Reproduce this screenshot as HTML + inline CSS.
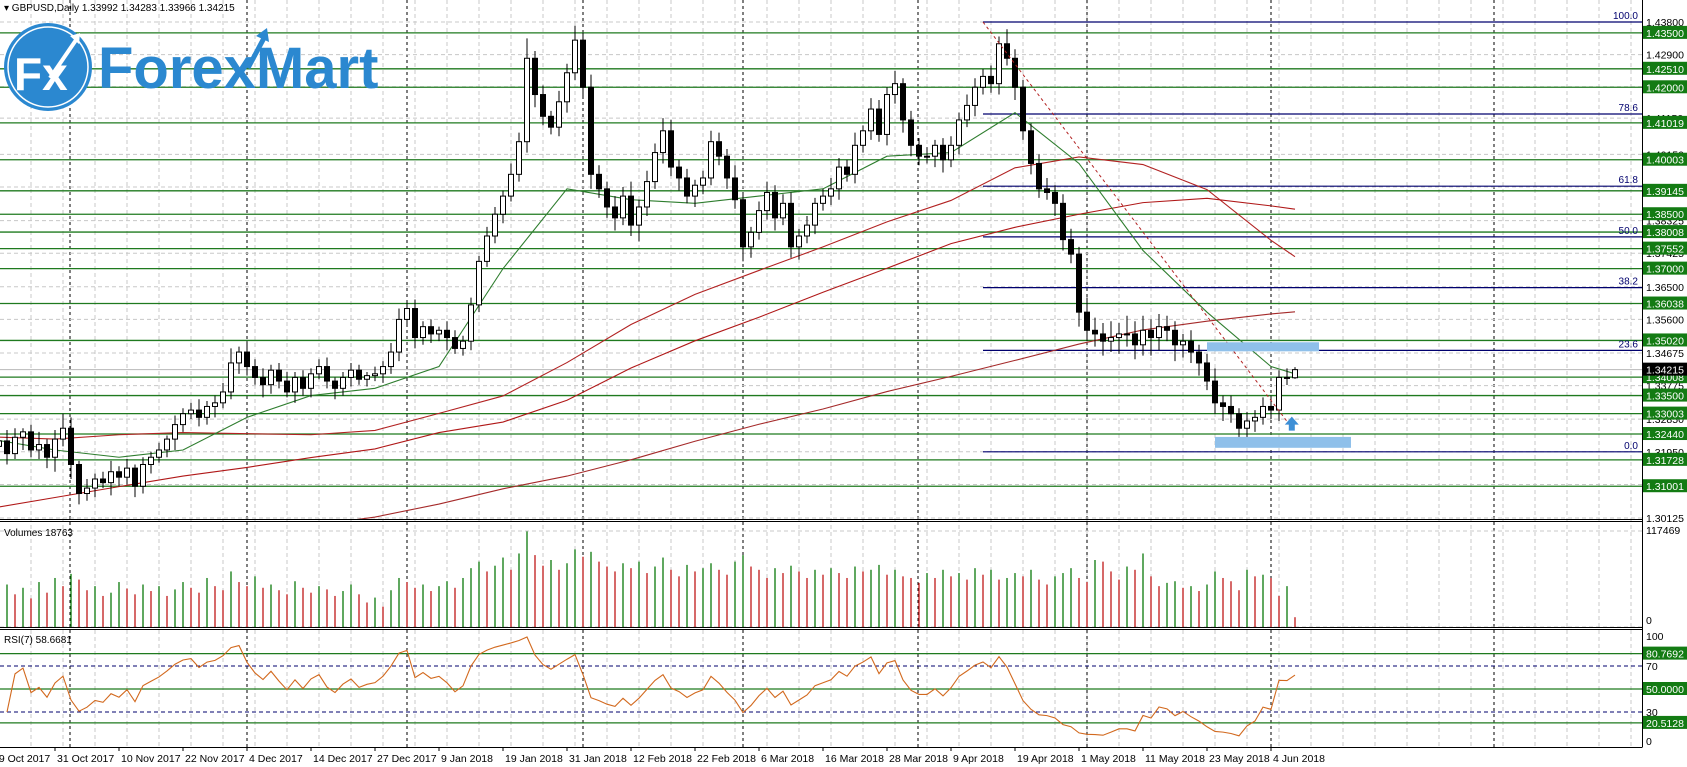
<!DOCTYPE html>
<html><head><meta charset="utf-8"><style>
html,body{margin:0;padding:0;background:#fff;}
svg{display:block;font-family:"Liberation Sans",sans-serif;}
</style></head><body>
<svg id="chart" width="1687" height="767" viewBox="0 0 1687 767" xmlns="http://www.w3.org/2000/svg">
<defs><clipPath id="mainClip"><rect x="0" y="0" width="1642" height="519"/></clipPath>
<clipPath id="volClip"><rect x="0" y="522" width="1642" height="105"/></clipPath>
<clipPath id="rsiClip"><rect x="0" y="630" width="1642" height="117"/></clipPath></defs>
<g id="grid"></g>
<g id="levels"></g>
<g id="fib"></g>
<g id="mas" clip-path="url(#mainClip)"></g>
<g id="candles" clip-path="url(#mainClip)"></g>
<g id="annot"></g>
<g id="vol" clip-path="url(#volClip)"></g>
<g id="rsi"></g>
<g id="axis"></g>
<g id="dates"></g>
<g id="logo">
  <circle cx="48" cy="67" r="44" fill="#2b88d0"/>
  <circle cx="48" cy="67" r="40" fill="none" stroke="#fff" stroke-width="1.5"/>
  <text x="14" y="90" font-size="46" font-weight="bold" fill="#fff">Fx</text>
  <path d="M50 78 L76 40" stroke="#fff" stroke-width="4"/>
  <path d="M70 36 L80 33 L79 44 Z" fill="#fff"/>
  <text x="98" y="88" font-size="58" font-weight="bold" fill="#2b88d0">ForexMart</text>
  <path d="M248 68 L264 38" stroke="#2b88d0" stroke-width="5"/>
  <path d="M256 36 L267 28 L269 42 Z" fill="#2b88d0"/>
</g>
<text x="4" y="11" font-size="10" fill="#000">▾ GBPUSD,Daily  1.33992 1.34283 1.33966 1.34215</text>
<text x="4" y="536" font-size="10" fill="#000">Volumes 18763</text>
<text x="4" y="643" font-size="10" fill="#000">RSI(7) 58.6681</text>
</svg>
<script>
const closes=[1.3210,1.3225,1.3190,1.3235,1.3250,1.3200,1.3215,1.3180,1.3230,1.3260,
1.3160,1.3080,1.3095,1.3120,1.3110,1.3140,1.3125,1.3150,1.3100,1.3160,
1.3180,1.3200,1.3230,1.3270,1.3300,1.3310,1.3290,1.3320,1.3330,1.3360,
1.3440,1.3470,1.3430,1.3400,1.3380,1.3420,1.3390,1.3360,1.3400,1.3370,
1.3410,1.3430,1.3390,1.3370,1.3400,1.3420,1.3395,1.3405,1.3410,1.3430,
1.3470,1.3560,1.3590,1.3510,1.3540,1.3520,1.3530,1.3510,1.3480,1.3500,
1.3600,1.3720,1.3790,1.3850,1.3900,1.3960,1.4050,1.4280,1.4180,1.4120,
1.4090,1.4160,1.4240,1.4330,1.4200,1.3960,1.3920,1.3870,1.3840,1.3900,
1.3820,1.3870,1.3940,1.4020,1.4080,1.3980,1.3950,1.3900,1.3930,1.3950,
1.4050,1.4010,1.3950,1.3890,1.3760,1.3800,1.3860,1.3910,1.3840,1.3880,
1.3760,1.3790,1.3820,1.3880,1.3900,1.3920,1.3980,1.3960,1.4040,1.4080,
1.4140,1.4070,1.4180,1.4210,1.4110,1.4040,1.4010,1.4010,1.4040,1.4000,
1.4040,1.4110,1.4150,1.4200,1.4230,1.4210,1.4320,1.4280,1.4200,1.4080,
1.3990,1.3920,1.3910,1.3880,1.3780,1.3740,1.3580,1.3530,1.3520,1.3500,
1.3510,1.3520,1.3520,1.3490,1.3530,1.3510,1.3540,1.3530,1.3490,1.3500,
1.3470,1.3440,1.3390,1.3330,1.3320,1.3300,1.3260,1.3280,1.3290,1.3320,
1.3310,1.3400,1.33992,1.34215];
const upperWick=[20,15,30,25,10,20,35,15,25,40,30,10,25,15,20,30,15,25,10,20,15,20,10,25,15,20,30,15,20,25,40,15,30,20,25,15,20,25,15,20,15,20,25,10,15,20,15,10,20,15,25,30,20,25,15,20,10,25,20,15,20,15,25,20,15,30,25,55,20,25,15,30,25,40,20,35,25,20,30,25,40,20,30,25,35,30,20,25,15,20,30,25,20,35,20,15,25,30,20,25,30,20,25,15,20,30,25,20,35,15,30,25,20,35,15,25,20,25,15,20,25,20,30,25,20,30,20,40,25,20,20,25,30,20,25,30,20,40,35,30,45,30,50,35,40,30,35,30,25,20,30,20,25,35,20,30,15,25,20,25,30,20,25,7];
const lowerWick=[25,20,30,15,35,20,25,30,40,20,40,30,20,25,15,35,25,20,30,20,25,15,20,30,20,15,25,20,30,15,20,30,25,20,35,25,20,15,30,20,25,15,20,30,20,25,15,20,15,25,20,25,15,30,20,25,20,35,15,20,25,20,15,20,25,15,20,30,35,25,20,25,30,20,25,40,25,30,35,20,30,45,25,20,30,25,35,20,30,25,20,25,30,25,40,30,20,25,35,20,30,35,20,25,20,25,30,20,25,20,25,20,30,25,35,30,25,20,30,35,20,25,20,30,20,25,30,20,35,25,30,25,20,35,30,25,40,30,35,40,30,45,35,40,30,50,35,30,45,35,30,35,25,30,40,25,35,30,30,20,25,30,20,3];
const volumes=[45,38,52,40,48,35,55,42,60,50,65,58,45,50,38,42,55,47,40,52,44,50,38,46,55,48,42,60,50,45,68,55,50,62,48,52,45,40,56,48,42,50,46,38,44,52,40,30,36,25,45,60,55,48,52,44,50,56,48,60,72,80,68,75,85,70,90,117,88,75,82,70,78,95,86,92,80,74,68,78,72,80,66,74,85,70,62,76,68,72,78,70,64,80,88,74,70,60,72,66,75,68,60,70,64,72,66,60,74,68,70,76,64,70,62,60,54,66,60,70,62,66,58,72,64,70,58,60,66,62,70,58,52,62,66,72,60,55,82,80,68,58,74,70,90,62,50,54,56,48,50,44,52,68,60,56,45,70,62,64,60,38,50,12];
const maIdx=[0,8,16,24,32,40,48,56,64,72,80,88,96,104,112,120,128,136,144,152,160,163];
const maFast=[1.3230,1.3200,1.3180,1.3200,1.3290,1.3350,1.3370,1.3430,1.3700,1.3920,1.3890,1.3880,1.3900,1.3920,1.4010,1.4020,1.4130,1.3990,1.3750,1.3580,1.3430,1.3410];
const maMid=[1.3236,1.3230,1.3242,1.3248,1.3245,1.3242,1.3254,1.3301,1.3349,1.3441,1.3546,1.3629,1.3695,1.3760,1.3829,1.3888,1.3978,1.4008,1.3987,1.3918,1.3778,1.3733];
const maSlow=[1.3039,1.3069,1.3099,1.3128,1.3152,1.3179,1.3203,1.3248,1.3277,1.3337,1.3426,1.3501,1.3566,1.3635,1.3701,1.3769,1.3814,1.3850,1.3882,1.3894,1.3873,1.3864];
const maLongIdx=[44,48,56,64,72,80,88,96,104,112,120,128,136,144,152,160,163];
const maLong=[1.3003,1.3015,1.3051,1.3093,1.3128,1.3173,1.3224,1.3271,1.3313,1.3361,1.3403,1.3447,1.3492,1.3531,1.3555,1.3575,1.3581];
const levelPrices=[1.435,1.4251,1.42,1.41019,1.40003,1.39145,1.385,1.38008,1.37552,1.37,1.36038,1.3502,1.34008,1.335,1.33003,1.3244,1.31728,1.31001];
const gridPrices=[1.438,1.429,1.42015,1.4115,1.4015,1.3925,1.38325,1.37425,1.365,1.356,1.34675,1.33775,1.3285,1.3195,1.3105,1.30125];
const fibPct=[100,78.6,61.8,50,38.2,23.6,0];
const fibHigh=1.438, fibLow=1.3195;
const dateLabels=["19 Oct 2017","31 Oct 2017","10 Nov 2017","22 Nov 2017","4 Dec 2017","14 Dec 2017","27 Dec 2017","9 Jan 2018","19 Jan 2018","31 Jan 2018","12 Feb 2018","22 Feb 2018","6 Mar 2018","16 Mar 2018","28 Mar 2018","9 Apr 2018","19 Apr 2018","1 May 2018","11 May 2018","23 May 2018","4 Jun 2018"];
const rsiLevels=[80.7692,50,20.5128];
const rsiDashed=[70,30];
const volMax=117.469;

const NS="http://www.w3.org/2000/svg";
const N=closes.length;
const X=i=>1295-(N-1-i)*8;
const Y=p=>22+(1.438-p)*3627;
const VY=v=>627-v/volMax*96;
const RY=v=>746.5-1.15*v;
function mk(tag,attrs,parent){const e=document.createElementNS(NS,tag);for(const k in attrs)e.setAttribute(k,attrs[k]);parent.appendChild(e);return e;}
const $=id=>document.getElementById(id);

const grid=$('grid');
for(let x=31;x<1642;x+=32){const l=mk('line',{x1:x,y1:0,x2:x,y2:747,stroke:'#c8c8c8','stroke-dasharray':'4,3','stroke-width':1},grid);

}
[70,247,407,583,743,918,1087,1271,1494].forEach(x=>{const l=mk('line',{x1:x,y1:0,x2:x,y2:747,stroke:'#000','stroke-dasharray':'3,3','stroke-width':1},grid);

});
gridPrices.forEach(p=>{const l=mk('line',{x1:0,y1:Y(p),x2:1642,y2:Y(p),stroke:'#c8c8c8','stroke-dasharray':'4,3'},grid);

});
[VY(0),VY(volMax)].forEach(y=>{const l=mk('line',{x1:0,y1:y,x2:1642,y2:y,stroke:'#c8c8c8','stroke-dasharray':'4,3'},grid);

});

const lev=$('levels');
levelPrices.forEach(p=>{const l=mk('line',{x1:0,y1:Y(p),x2:1642,y2:Y(p),stroke:'#1f7a1f','stroke-width':1.3},lev);

});
const cur=mk('line',{x1:0,y1:Y(closes[N-1]),x2:1642,y2:Y(closes[N-1]),stroke:'#b8b8b8'},lev);



const fib=$('fib');
fibPct.forEach(pc=>{const p=fibLow+pc/100*(fibHigh-fibLow);
const l=mk('line',{x1:983,y1:Y(p),x2:1642,y2:Y(p),stroke:'#00006e','stroke-width':1.2},fib);


const t=mk('text',{x:1638,y:Y(p)-3,'font-size':10,fill:'#00006e','text-anchor':'end'},fib);t.textContent=pc.toFixed(1);

});

const mas=$('mas');
function line(idx,vals,color,name){const pts=idx.map((i,k)=>X(i)+','+Y(vals[k])).join(' ');
const pl=mk('polyline',{points:pts,fill:'none',stroke:color,'stroke-width':1.1},mas);

}
line(maIdx,maMid,'#b22222','ma-medium');
line(maIdx,maSlow,'#b01818','ma-slow');
line(maLongIdx,maLong,'#a52a2a','ma-long');
line(maIdx,maFast,'#2e7d2e','ma-fast');

const cg=$('candles');
for(let i=0;i<N;i++){const o=i?closes[i-1]:1.3200,c=closes[i];
const hi=Math.max(o,c)+upperWick[i]*0.0001,lo=Math.min(o,c)-lowerWick[i]*0.0001;const x=X(i);
const w=mk('line',{x1:x,y1:Y(hi),x2:x,y2:Y(lo),stroke:'#000','stroke-width':1},cg);


const top=Y(Math.max(o,c)),h=Math.max(1,Math.abs(Y(o)-Y(c)));
const b=mk('rect',{x:x-2.5,y:top,width:5,height:h,fill:c>=o?'#fff':'#000',stroke:'#000','stroke-width':1},cg);

}

const an=$('annot');
const tl=mk('line',{x1:X(124),y1:Y(1.438),x2:X(163),y2:Y(1.325),stroke:'#b22222','stroke-dasharray':'3,3'},an);


const r1=mk('rect',{x:X(152),y:Y(1.3497),width:X(166)-X(152),height:Y(1.3472)-Y(1.3497),fill:'#8fc0ea'},an);


const r2=mk('rect',{x:X(153),y:Y(1.3236),width:X(170)-X(153),height:Y(1.3206)-Y(1.3236),fill:'#8fc0ea'},an);


const ax=X(162.6),ay=Y(1.327);
const ar=mk('path',{d:`M${ax} ${ay-8} L${ax+7} ${ay} L${ax+3} ${ay} L${ax+3} ${ay+6} L${ax-3} ${ay+6} L${ax-3} ${ay} L${ax-7} ${ay} Z`,fill:'#3d8fd6'},an);



const vg=$('vol');
for(let i=0;i<N;i++){const up=i===0||volumes[i]>volumes[i-1];
const l=mk('line',{x1:X(i),y1:627,x2:X(i),y2:VY(volumes[i]),stroke:up?'#0a7a0a':'#c01818','stroke-width':1.3},vg);

}

const rg=$('rsi');
rsiLevels.forEach(v=>{const l=mk('line',{x1:0,y1:RY(v),x2:1642,y2:RY(v),stroke:'#1f7a1f','stroke-width':1.3},rg);

});
rsiDashed.forEach(v=>{const l=mk('line',{x1:0,y1:RY(v),x2:1642,y2:RY(v),stroke:'#00006e','stroke-dasharray':'4,3'},rg);

});
const P=7;let ag=0,al=0;const rsiPts=[];
for(let i=1;i<N;i++){const d=closes[i]-closes[i-1],g=Math.max(d,0),l=Math.max(-d,0);
const n=Math.min(i,P);ag=(ag*(n-1)+g)/n;al=(al*(n-1)+l)/n;
if(i>=2){const r=al===0?100:100-100/(1+ag/al);rsiPts.push(X(i)+','+RY(r));}}
const rl=mk('polyline',{points:rsiPts.join(' '),fill:'none',stroke:'#d2691e','stroke-width':1.1,'clip-path':'url(#rsiClip)'},rg);



const axg=$('axis');
[[0,519.5,1642,519.5],[0,521.5,1642,521.5],[0,627.5,1642,627.5],[0,629.5,1642,629.5],[0,747.5,1642,747.5],[1642.5,0,1642.5,747.5]].forEach(a=>{
const l=mk('line',{x1:a[0],y1:a[1],x2:a[2],y2:a[3],stroke:'#000','stroke-width':1},axg);

});
function axLabel(y,txt,bg,fg,name){if(bg){const r=mk('rect',{x:1643,y:y-7,width:44,height:13,fill:bg},axg);

}
const t=mk('text',{x:1646,y:y+4,'font-size':10.5,fill:fg},axg);t.textContent=txt;

}
gridPrices.forEach(p=>axLabel(Y(p),p.toFixed(5),null,'#000','price-tick-label'));
levelPrices.forEach(p=>axLabel(Y(p),p.toFixed(5),'#137b13','#fff','level-price-label'));
axLabel(Y(closes[N-1]),closes[N-1].toFixed(5),'#000','#fff','current-price-label');
axLabel(530,'117469',null,'#000','volume-max-label');
axLabel(620,'0',null,'#000','volume-zero-label');
[[100,636],[70,666],[30,712],[0,741]].forEach(a=>axLabel(a[1],String(a[0]),null,'#000','rsi-tick-label'));
rsiLevels.forEach(v=>axLabel(RY(v),v.toFixed(4),'#137b13','#fff','rsi-level-label'));

const dg=$('dates');
dateLabels.forEach((d,k)=>{const x=X(k*8);
const tk=mk('line',{x1:x,y1:747,x2:x,y2:751,stroke:'#000'},dg);


const t=mk('text',{x:x+2,y:762,'font-size':10.5,fill:'#000'},dg);t.textContent=d;

});
</script>
</body></html>
